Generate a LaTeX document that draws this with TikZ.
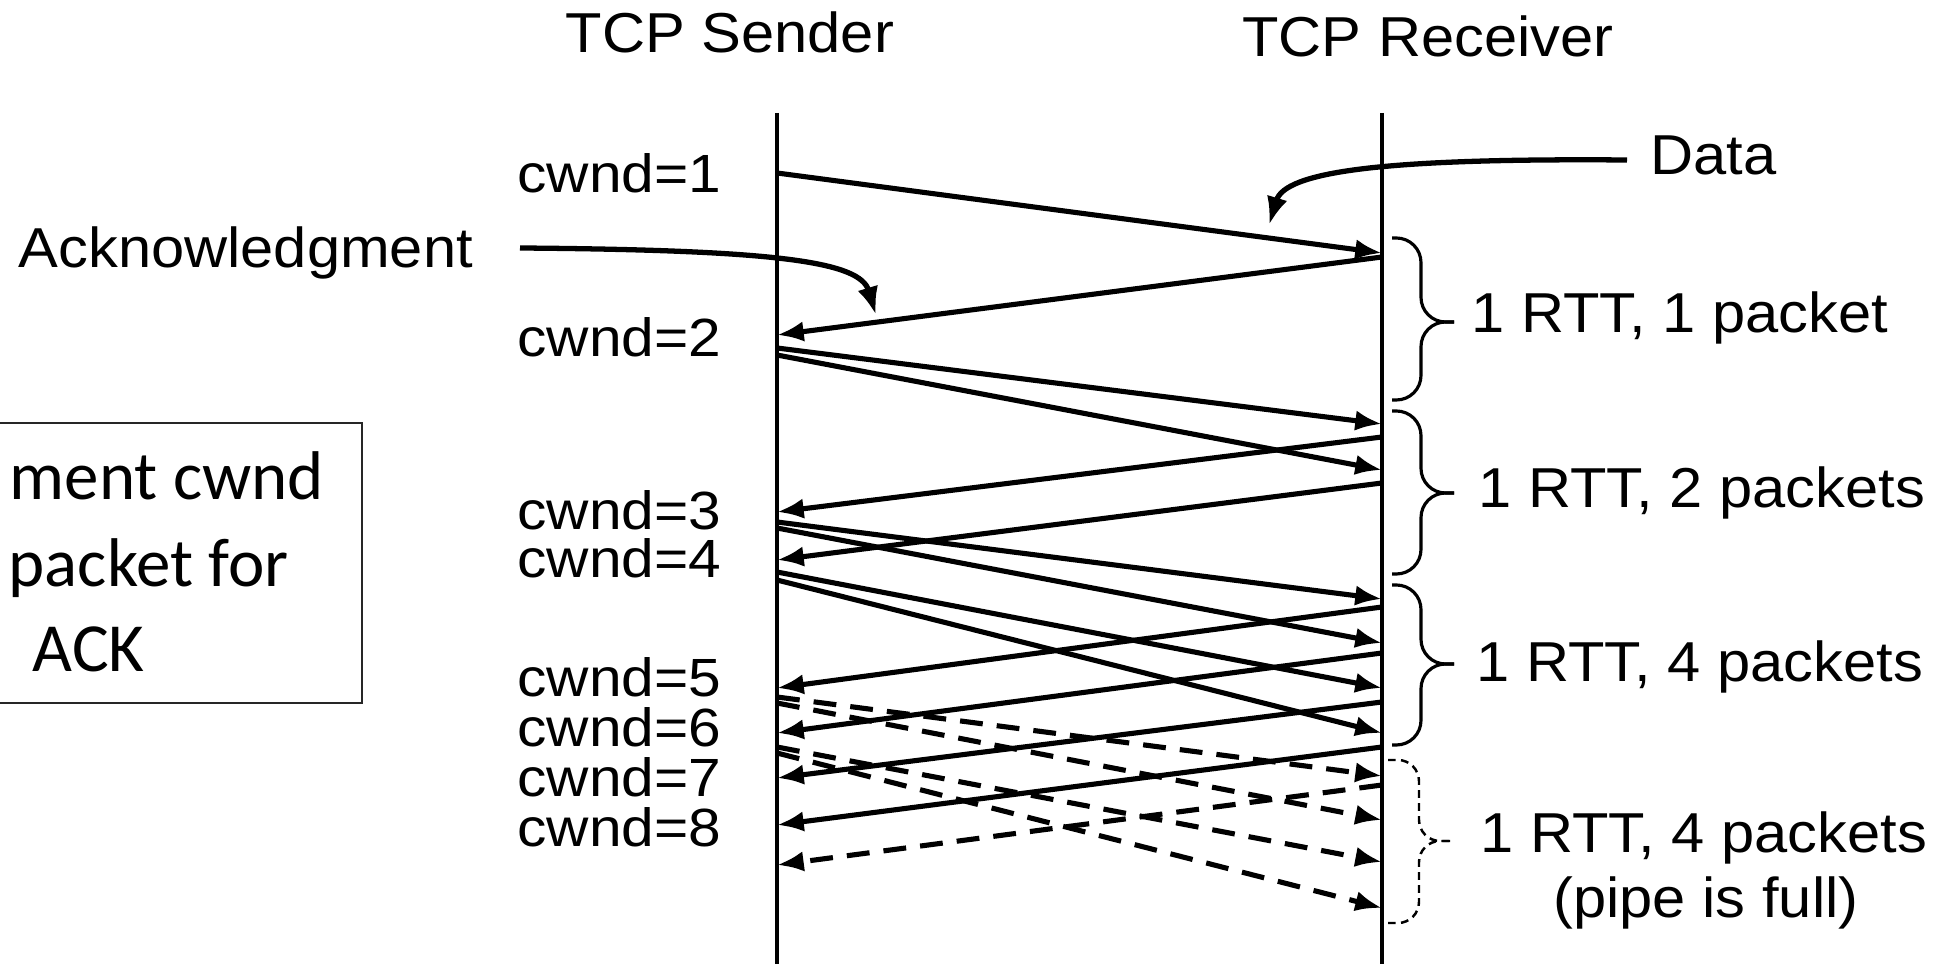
\documentclass[tikz,border=0pt]{standalone}
\usepackage{fontspec}
\setmainfont{Liberation Sans}[FakeStretch=1.06]
\newfontfamily\cwfont{Liberation Sans}[FakeStretch=1.09]
\newfontfamily\boxfont{Carlito}
\usetikzlibrary{arrows.meta}
\begin{document}
\begin{tikzpicture}[x=0.01cm,y=-0.01cm,
  lbl/.style={font=\fontsize{16pt}{19pt}\selectfont, inner sep=0pt},
  cwlbl/.style={font=\cwfont\fontsize{15.3pt}{17pt}\selectfont, inner sep=0pt, anchor=base east},
  life/.style={line width=1pt},
  msg/.style={line width=1.45pt, -{Latex[length=7.6pt,width=5.8pt]}},
  dmsg/.style={msg, dash pattern=on 6.5pt off 4pt},
  curvearrow/.style={line width=1.5pt, -{Latex[length=8pt,width=6pt]}},
  rbrace/.style={line width=0.9pt, rounded corners=7},
  dbrace/.style={line width=0.7pt, rounded corners=6, dash pattern=on 2.2pt off 1.5pt},
  boxtxt/.style={font=\boxfont\fontsize{19.6pt}{23pt}\selectfont, inner sep=0pt, anchor=base west},
]
\useasboundingbox (0,0) rectangle (1944,964);

% lifelines
\coordinate (sTop) at (777,113); \coordinate (sBot) at (777,964);
\coordinate (rTop) at (1382,113); \coordinate (rBot) at (1382,964);
\draw[life] (sTop) -- (sBot);
\draw[life] (rTop) -- (rBot);

% headings
\node[lbl, anchor=base] (sender) at (730,53) {TCP Sender};
\node[lbl, anchor=base] (receiver) at (1428,57) {TCP Receiver};

% cwnd labels
\foreach \k/\y in {1/193,2/357,3/530,4/578,5/697,6/747,7/797,8/847}
  \node[cwlbl] (cw\k) at (722,\y) {cwnd=\k};

% data segments (solid)
\foreach \n/\sy/\ry in {a/173/253, b/348/424, c/355/470, d/522/599, e/528/643, f/572/688, g/580/733} {
  \coordinate (ds\n) at (777,\sy);
  \coordinate (dr\n) at (1382,\ry);
  \draw[msg] (ds\n) -- (dr\n);
}
% data segments (dashed)
\foreach \n/\sy/\ry in {h/697/776, i/703/820, j/747/862, k/753/908} {
  \coordinate (ds\n) at (777,\sy);
  \coordinate (dr\n) at (1382,\ry);
  \draw[dmsg] (ds\n) -- (dr\n);
}
% acknowledgments (solid)
\foreach \n/\ry/\sy in {a/257/335, b/437/512, c/483/560, d/607/688, e/653/733, f/702/778, g/747/825} {
  \coordinate (ar\n) at (1382,\ry);
  \coordinate (as\n) at (777,\sy);
  \draw[msg] (ar\n) -- (as\n);
}
% acknowledgment (dashed)
\coordinate (arh) at (1382,785); \coordinate (ash) at (777,865);
\draw[dmsg] (arh) -- (ash);

% callouts
\node[lbl, anchor=base west] (datalbl) at (1650,175) {Data};
\coordinate (dstart) at (1627,160); \coordinate (dtip) at (1269,225);
\draw[curvearrow] (dstart) .. controls (1380,158) and (1285,172) .. (dtip);

\node[lbl, anchor=base west] (acklbl) at (18,268) {Acknowledgment};
\coordinate (astart) at (520,248); \coordinate (atip) at (876,315);
\draw[curvearrow] (astart) .. controls (780,250) and (860,262) .. (atip);

% braces
\draw[rbrace] (1392,238) -- (1421,238) -- (1421,322) -- (1454,322);
\draw[rbrace] (1392,400) -- (1421,400) -- (1421,322) -- (1454,322);
\draw[rbrace] (1392,411) -- (1421,411) -- (1421,493) -- (1454,493);
\draw[rbrace] (1392,574) -- (1421,574) -- (1421,493) -- (1454,493);
\draw[rbrace] (1392,585) -- (1421,585) -- (1421,664) -- (1454,664);
\draw[rbrace] (1392,745) -- (1421,745) -- (1421,664) -- (1454,664);
\draw[dbrace] (1388,760) -- (1419,760) -- (1419,841) -- (1450,841);
\draw[dbrace] (1388,923) -- (1419,923) -- (1419,841) -- (1450,841);

% RTT labels
\node[lbl, anchor=base west] (rtt1) at (1471,333) {1 RTT, 1 packet};
\node[lbl, anchor=base west] (rtt2) at (1478,508) {1 RTT, 2 packets};
\node[lbl, anchor=base west] (rtt3) at (1476,682) {1 RTT, 4 packets};
\node[lbl, anchor=base west] (rtt4) at (1480,853) {1 RTT, 4 packets};
\node[lbl, anchor=base] (pipe) at (1706,918) {(pipe is full)};

% clipped note box
\draw[line width=0.6pt, black!85] (-10,423) rectangle (362,703);
\node[boxtxt] (bx1) at (9,500) {ment cwnd};
\node[boxtxt] (bx2) at (8,587) {packet for};
\node[boxtxt] (bx3) at (32,672) {ACK};
\end{tikzpicture}
\end{document}
